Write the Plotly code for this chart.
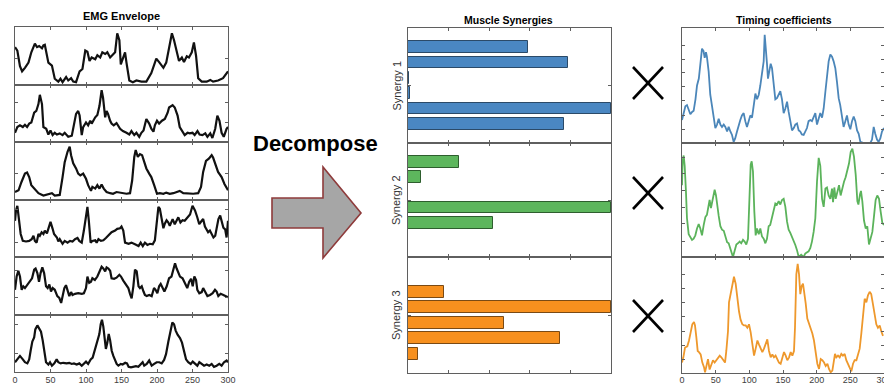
import plotly.graph_objects as go

W, H = 884, 385
FONT = "Liberation Sans, Arial, sans-serif"

# ---------------- EMG envelopes (six muscles, normalised amplitude) ----------------
emg1_t = [0, 3.3, 7, 10, 14, 19, 23, 28, 31, 34, 38, 40, 42, 47, 52, 56, 61, 64, 67, 72,
          75, 79, 82, 86, 91, 95, 99, 102, 105, 108, 113, 116, 120, 123, 127, 130, 134, 138, 141, 144,
          147, 149, 152, 155, 157, 161, 166, 171, 178, 185, 192, 199, 203, 209, 213, 217, 221, 224, 228, 231,
          235, 238, 242, 245, 249, 252, 255, 258, 263, 270, 275, 279, 286, 293, 300]
emg1_v = [0.65, 0.59, 0.32, 0.23, 0.29, 0.38, 0.56, 0.71, 0.65, 0.67, 0.63, 0.68, 0.69, 0.38, 0.33, 0.10, 0.05, 0.10, 0.04, 0.13,
          0.07, 0.11, 0.05, 0.04, 0.23, 0.27, 0.59, 0.57, 0.41, 0.47, 0.44, 0.51, 0.47, 0.56, 0.53, 0.56, 0.47, 0.53, 0.56, 0.89,
          0.77, 0.35, 0.47, 0.56, 0.38, 0.07, 0.04, 0.07, 0.05, 0.05, 0.20, 0.45, 0.39, 0.29, 0.38, 0.62, 0.89, 0.77, 0.53, 0.41,
          0.47, 0.39, 0.49, 0.47, 0.56, 0.73, 0.50, 0.11, 0.05, 0.05, 0.08, 0.05, 0.07, 0.11, 0.23]

emg2_t = [0, 3.3, 7, 11, 14, 17, 20, 23, 27, 30, 33, 35, 38, 40, 44, 47, 50, 53, 56, 59,
          63, 67, 70, 75, 80, 83, 86, 89, 91, 94, 96, 100, 103, 106, 108, 113, 116, 119, 122, 124,
          127, 129, 131, 134, 136, 139, 143, 148, 152, 157, 161, 164, 168, 171, 175, 178, 181, 185, 189, 192,
          195, 197, 200, 203, 207, 211, 215, 217, 222, 225, 229, 232, 236, 239, 243, 246, 250, 253, 257, 260,
          264, 268, 271, 275, 278, 282, 285, 288, 291, 294, 298, 300]
emg2_v = [0.16, 0.26, 0.29, 0.26, 0.30, 0.26, 0.32, 0.34, 0.51, 0.54, 0.66, 0.82, 0.66, 0.26, 0.23, 0.13, 0.20, 0.12, 0.16, 0.13,
          0.15, 0.12, 0.16, 0.09, 0.11, 0.32, 0.49, 0.54, 0.46, 0.12, 0.26, 0.34, 0.29, 0.37, 0.32, 0.43, 0.47, 0.63, 0.90, 0.77,
          0.43, 0.54, 0.49, 0.37, 0.32, 0.29, 0.33, 0.23, 0.19, 0.16, 0.13, 0.19, 0.12, 0.16, 0.09, 0.16, 0.20, 0.40, 0.32, 0.23,
          0.18, 0.29, 0.37, 0.32, 0.37, 0.40, 0.51, 0.60, 0.64, 0.60, 0.46, 0.26, 0.19, 0.12, 0.16, 0.15, 0.16, 0.12, 0.19, 0.13,
          0.12, 0.15, 0.09, 0.15, 0.07, 0.23, 0.46, 0.37, 0.16, 0.09, 0.23, 0.26]

emg3_t = [0, 5, 9, 14, 17, 20, 23, 28, 33, 40, 47, 52, 56, 63, 67, 70, 74, 77, 79, 82,
          86, 89, 92, 96, 100, 103, 107, 109, 113, 116, 119, 122, 125, 129, 134, 138, 143, 150, 157, 162,
          165, 168, 170, 173, 176, 179, 182, 185, 189, 192, 196, 200, 204, 209, 213, 218, 223, 227, 232, 237,
          244, 251, 258, 262, 265, 269, 273, 277, 279, 283, 286, 291, 295, 300]
emg3_v = [0.13, 0.16, 0.30, 0.45, 0.47, 0.39, 0.25, 0.17, 0.11, 0.07, 0.09, 0.11, 0.07, 0.08, 0.39, 0.65, 0.83, 0.92, 0.77, 0.63,
          0.54, 0.45, 0.42, 0.45, 0.36, 0.25, 0.15, 0.22, 0.19, 0.25, 0.19, 0.26, 0.19, 0.13, 0.11, 0.10, 0.13, 0.11, 0.10, 0.11,
          0.33, 0.74, 0.86, 0.74, 0.79, 0.77, 0.65, 0.54, 0.45, 0.39, 0.25, 0.10, 0.11, 0.10, 0.12, 0.10, 0.11, 0.13, 0.15, 0.11,
          0.10, 0.10, 0.11, 0.22, 0.48, 0.67, 0.71, 0.77, 0.73, 0.57, 0.48, 0.39, 0.27, 0.16]

emg4_t = [0, 1.4, 3.3, 5.6, 8, 11, 15.5, 20, 23.5, 26, 28, 30.5, 33, 35, 37.5, 40, 42, 45, 47, 50,
          53, 55, 59, 61, 63, 67, 70, 74, 77.5, 81, 84.5, 88, 90.5, 94, 97, 100, 102, 104, 106.5, 109,
          113, 115, 117.5, 121, 124.5, 128, 131.5, 136, 141, 144, 148, 150, 152.5, 155, 160, 164, 169, 174, 177, 180,
          183, 186.5, 190, 194, 197, 199.5, 202, 204, 206.5, 209, 211, 213.5, 216, 218, 222, 225, 227.5, 230, 233, 236,
          239, 243, 246.5, 250, 253.5, 256.5, 259.5, 263, 265, 267.5, 270, 272, 274.5, 277, 279.5, 282, 284, 286.5, 289, 291,
          293.5, 296, 298, 300]
emg4_v = [0.63, 0.81, 0.89, 0.69, 0.40, 0.28, 0.27, 0.28, 0.31, 0.37, 0.28, 0.25, 0.40, 0.37, 0.43, 0.40, 0.46, 0.41, 0.49, 0.61,
          0.49, 0.40, 0.34, 0.27, 0.31, 0.23, 0.28, 0.25, 0.28, 0.27, 0.31, 0.33, 0.28, 0.25, 0.46, 0.75, 0.87, 0.63, 0.25, 0.28,
          0.29, 0.25, 0.31, 0.28, 0.29, 0.33, 0.37, 0.43, 0.46, 0.49, 0.50, 0.53, 0.46, 0.25, 0.23, 0.25, 0.22, 0.19, 0.25, 0.19,
          0.25, 0.21, 0.23, 0.22, 0.29, 0.57, 0.87, 0.84, 0.66, 0.50, 0.58, 0.64, 0.60, 0.54, 0.66, 0.57, 0.63, 0.69, 0.60, 0.64,
          0.63, 0.68, 0.74, 0.89, 0.81, 0.70, 0.57, 0.63, 0.66, 0.53, 0.47, 0.43, 0.46, 0.40, 0.34, 0.37, 0.51, 0.66, 0.72, 0.63,
          0.51, 0.48, 0.34, 0.63]

emg5_t = [0, 2.3, 4.7, 7, 9.4, 11.7, 14, 17.4, 20, 22, 24, 27, 29, 31.5, 33.8, 36, 38.5, 41, 43.7, 46,
          48.4, 50.7, 53, 56, 59.6, 62.4, 65, 67.1, 69.5, 71.8, 74, 76.5, 79, 81, 84.5, 89, 94, 97, 100, 102,
          104.5, 107, 109, 112.5, 116, 118.8, 122, 124.4, 127, 129, 131.5, 134, 136, 139.6, 143, 147, 149.3, 152.5, 156, 159.6,
          162, 164.3, 166.7, 169, 171.4, 174, 176, 178.5, 181, 183, 185.5, 189, 192.5, 195.8, 198, 200.5, 203, 205.2, 208, 210.4,
          213.7, 217, 220.4, 223, 225.4, 227.7, 230, 232.4, 236, 239.4, 242.6, 245.4, 248, 250.3, 252.6, 255, 256.8, 259.6, 263, 265,
          267.7, 271, 274.7, 278.4, 281.7, 284, 286.4, 289.7, 293.5, 297, 300]
emg5_v = [0.43, 0.66, 0.76, 0.66, 0.43, 0.49, 0.46, 0.52, 0.56, 0.60, 0.63, 0.78, 0.80, 0.72, 0.57, 0.72, 0.82, 0.72, 0.49, 0.46,
          0.52, 0.40, 0.46, 0.43, 0.32, 0.29, 0.20, 0.32, 0.46, 0.51, 0.43, 0.32, 0.39, 0.34, 0.36, 0.37, 0.36, 0.37, 0.46, 0.66,
          0.55, 0.57, 0.63, 0.60, 0.66, 0.75, 0.83, 0.80, 0.75, 0.82, 0.80, 0.76, 0.63, 0.62, 0.64, 0.69, 0.66, 0.59, 0.52, 0.46,
          0.36, 0.28, 0.49, 0.78, 0.75, 0.49, 0.46, 0.49, 0.40, 0.34, 0.32, 0.34, 0.32, 0.46, 0.43, 0.37, 0.49, 0.53, 0.46, 0.40,
          0.49, 0.63, 0.66, 0.78, 0.89, 0.80, 0.72, 0.66, 0.63, 0.55, 0.46, 0.57, 0.62, 0.49, 0.66, 0.60, 0.43, 0.37, 0.39, 0.46,
          0.40, 0.32, 0.34, 0.37, 0.43, 0.40, 0.32, 0.36, 0.34, 0.32, 0.30]

emg6_t = [0, 3.3, 7, 11, 14, 17.4, 20, 22, 24.4, 27, 28.6, 31.5, 34, 36.6, 39, 41.3, 43.7, 47, 49.3, 52,
          55.4, 58.7, 61, 64.3, 68, 72.7, 76.5, 79.8, 83, 86.9, 90.6, 94, 97, 100, 103, 106.6, 109.4, 112.7, 116, 118.8,
          120.7, 122.5, 124.4, 126.7, 128, 130, 132, 134, 136.2, 138.5, 141, 143.2, 145.6, 149, 151.6, 155.3, 157.7, 160, 163.4, 167,
          170.4, 173.7, 177, 179.8, 182, 185.5, 189, 192.5, 196, 199.5, 203.3, 206.6, 210, 212.7, 216, 219.3, 221.6, 224, 226.3, 229,
          232.4, 235.2, 238, 240.9, 244, 247.5, 250.3, 253.5, 256.8, 259.6, 263, 266.3, 270, 273.6, 277, 280.3, 284, 287.7, 291, 294.4,
          298, 300]
emg6_v = [0.17, 0.22, 0.28, 0.22, 0.17, 0.15, 0.22, 0.37, 0.53, 0.60, 0.74, 0.81, 0.76, 0.70, 0.55, 0.37, 0.17, 0.13, 0.17, 0.11,
          0.15, 0.22, 0.17, 0.15, 0.16, 0.15, 0.16, 0.14, 0.15, 0.13, 0.15, 0.11, 0.14, 0.18, 0.14, 0.22, 0.25, 0.38, 0.51, 0.66,
          0.83, 0.91, 0.79, 0.55, 0.40, 0.51, 0.66, 0.55, 0.37, 0.28, 0.20, 0.14, 0.11, 0.14, 0.13, 0.16, 0.15, 0.09, 0.08, 0.09,
          0.10, 0.09, 0.13, 0.17, 0.11, 0.14, 0.20, 0.11, 0.14, 0.17, 0.17, 0.15, 0.21, 0.31, 0.53, 0.71, 0.86, 0.83, 0.72, 0.65,
          0.59, 0.51, 0.38, 0.22, 0.17, 0.14, 0.18, 0.14, 0.11, 0.17, 0.14, 0.11, 0.13, 0.11, 0.14, 0.09, 0.11, 0.14, 0.11, 0.17,
          0.20, 0.17]

# ---------------- Muscle synergy weights (muscles 1..6) ----------------
muscles = [1, 2, 3, 4, 5, 6]
syn1_w = [0.59, 0.79, 0.003, 0.012, 1.0, 0.77]
syn2_w = [0.25, 0.064, 0.0, 1.0, 0.42, 0.002]
syn3_w = [0.0, 0.176, 1.0, 0.474, 0.75, 0.048]

# ---------------- Timing coefficients ----------------
tc1_t = [0, 2.5, 5, 7.4, 10, 12.4, 15, 17.3, 20, 22.3, 25, 27.2, 29.7, 32, 33.7, 35.6, 37, 39.6, 42, 44.6,
         47, 49.5, 52, 54.5, 57, 59.4, 62, 64.4, 67, 69.3, 71.8, 74.3, 76.7, 79, 81.7, 84, 86.6, 89, 91.6, 94,
         96.5, 99, 101.5, 104, 106.4, 109, 111.4, 114, 116.3, 118.8, 121.3, 122.8, 124.8, 126.2, 127.7, 129.7, 131.7, 133.7, 136, 138.6,
         141, 143.6, 146, 148.5, 151, 153.5, 156, 158.4, 161, 163.4, 166, 168.3, 170.8, 173.3, 175.7, 178, 180.7, 183, 185.6, 188,
         190.6, 193, 195.5, 198, 200.5, 203, 205.4, 208, 210.4, 213, 215.3, 217.8, 220.3, 222.8, 225.2, 227.7, 230.2, 232.7, 235, 237.6,
         240, 242.6, 245, 247.5, 250, 252.5, 255, 257.4, 260, 262.4, 264.9, 270, 275, 279.7, 282.2, 284.7, 287, 289.6, 292, 294.5,
         297, 300]
tc1_v = [0.20, 0.25, 0.32, 0.33, 0.29, 0.25, 0.27, 0.28, 0.38, 0.50, 0.56, 0.68, 0.82, 0.80, 0.74, 0.79, 0.75, 0.62, 0.42, 0.32,
         0.20, 0.13, 0.16, 0.21, 0.16, 0.14, 0.16, 0.14, 0.10, 0.14, 0.10, 0.07, 0.01, 0.04, 0.10, 0.16, 0.20, 0.24, 0.26, 0.19,
         0.14, 0.19, 0.24, 0.22, 0.32, 0.43, 0.38, 0.42, 0.50, 0.59, 0.71, 0.94, 0.82, 0.69, 0.56, 0.62, 0.69, 0.65, 0.50, 0.38,
         0.39, 0.42, 0.45, 0.38, 0.26, 0.30, 0.36, 0.27, 0.17, 0.11, 0.13, 0.16, 0.17, 0.11, 0.10, 0.075, 0.07, 0.10, 0.13, 0.19,
         0.20, 0.19, 0.23, 0.26, 0.16, 0.22, 0.26, 0.22, 0.30, 0.45, 0.59, 0.71, 0.77, 0.75, 0.71, 0.65, 0.53, 0.39, 0.33, 0.24,
         0.14, 0.19, 0.24, 0.16, 0.12, 0.19, 0.23, 0.19, 0.11, 0.08, 0.01, 0.0, 0.0, 0.0, 0.03, 0.14, 0.08, 0.03, 0.01, 0.04,
         0.10, 0.13]

tc2_t = [0, 1, 2.5, 4, 5.9, 7.4, 9.9, 12.4, 14.9, 17.3, 19.8, 22.3, 24.8, 27.2, 29.7, 32.2, 34.7, 37, 39.6, 41,
         43, 45.5, 48.5, 50.5, 52, 54.5, 57, 59.4, 62, 64.4, 67, 69.3, 71.8, 74.3, 75.7, 78, 80.7, 83, 85.6, 88,
         90.6, 93, 95.5, 98, 100, 102, 103.5, 105.4, 107.4, 109.4, 111.4, 114, 116.3, 118.8, 121.3, 123.8, 126.2, 128.7, 131, 133.7,
         136, 138.6, 141, 143.6, 146, 148.5, 151, 153.5, 156, 158.4, 161, 163.4, 166, 168.3, 170.8, 173.3, 177, 180.7, 183, 185.6,
         188, 190.6, 193, 195.5, 198, 200.5, 203, 205.4, 208, 210.4, 213, 215.3, 217.8, 220.3, 222.8, 224.3, 226.2, 228.2, 230.7, 233.2,
         235.6, 238, 240.6, 243, 245.5, 248, 250.5, 253, 255.4, 258, 260.4, 262, 264.4, 265.8, 267.8, 270.3, 272.8, 275.2, 277.7, 280.2,
         282.7, 285, 287.6, 290, 292.6, 295, 297.5, 300]
tc2_v = [0.63, 0.85, 0.89, 0.80, 0.57, 0.34, 0.20, 0.18, 0.15, 0.16, 0.19, 0.25, 0.29, 0.25, 0.19, 0.28, 0.35, 0.37, 0.44, 0.50,
         0.43, 0.51, 0.59, 0.54, 0.46, 0.36, 0.27, 0.24, 0.23, 0.19, 0.13, 0.12, 0.08, 0.03, 0.00, 0.05, 0.11, 0.12, 0.135, 0.12,
         0.15, 0.135, 0.11, 0.16, 0.49, 0.81, 0.84, 0.75, 0.40, 0.19, 0.25, 0.20, 0.25, 0.18, 0.16, 0.12, 0.16, 0.27, 0.28, 0.34,
         0.41, 0.47, 0.46, 0.49, 0.46, 0.50, 0.51, 0.44, 0.31, 0.24, 0.21, 0.18, 0.135, 0.105, 0.06, 0.00, 0.02, 0.00, 0.03, 0.04,
         0.05, 0.08, 0.135, 0.22, 0.34, 0.66, 0.87, 0.80, 0.51, 0.44, 0.60, 0.61, 0.54, 0.51, 0.60, 0.48, 0.61, 0.51, 0.56, 0.63,
         0.54, 0.61, 0.66, 0.70, 0.75, 0.82, 0.92, 0.95, 0.88, 0.72, 0.49, 0.46, 0.55, 0.58, 0.49, 0.32, 0.25, 0.27, 0.11, 0.16,
         0.22, 0.35, 0.50, 0.54, 0.51, 0.40, 0.30, 0.28]

tc3_t = [0, 2, 4.5, 7.9, 10.4, 12.9, 15.3, 17.8, 19.3, 21.3, 23.3, 25.2, 27.7, 30.2, 32.7, 34.2, 36.1, 38.6, 41, 43.6,
         46, 48.5, 51, 53.5, 56, 58.4, 61, 63.9, 65.8, 68.3, 69.8, 72.3, 74.8, 77.2, 79.7, 82.2, 84.7, 87, 89.6, 92,
         94.6, 97, 99.5, 102, 104.5, 107, 109.4, 112, 114.4, 117, 119.3, 121.8, 124.3, 126.7, 129.2, 131.7, 134.2, 136.6, 139, 141.6,
         144, 146.5, 149, 151.5, 154, 156.4, 159, 161.4, 163.9, 166.3, 167.8, 169.8, 171.8, 173.8, 175.7, 177.7, 179.7, 181.7, 183.7, 186.1,
         188.6, 191, 193.6, 196, 198.5, 201, 203.5, 206, 208.4, 211, 213.4, 216, 218.3, 220.8, 223.3, 225.7, 227.2, 229.2, 231.7, 234.2,
         236.6, 239, 241.6, 244, 246.5, 249, 251.5, 254, 256.4, 259, 261.4, 263.9, 266.3, 268.8, 271.3, 273.8, 276.2, 278.7, 281, 283.7,
         286.1, 288.6, 291, 293.6, 296, 298.5]
tc3_v = [0.09, 0.135, 0.22, 0.23, 0.28, 0.36, 0.42, 0.44, 0.41, 0.31, 0.19, 0.18, 0.16, 0.09, 0.05, 0.006, 0.05, 0.12, 0.03, 0.08,
         0.11, 0.09, 0.11, 0.135, 0.15, 0.135, 0.11, 0.09, 0.19, 0.36, 0.61, 0.68, 0.78, 0.83, 0.77, 0.62, 0.53, 0.46, 0.42, 0.41,
         0.41, 0.39, 0.42, 0.35, 0.26, 0.15, 0.21, 0.28, 0.245, 0.21, 0.18, 0.21, 0.25, 0.29, 0.19, 0.135, 0.16, 0.135, 0.15, 0.12,
         0.09, 0.08, 0.135, 0.18, 0.15, 0.11, 0.135, 0.18, 0.15, 0.19, 0.39, 0.85, 0.94, 0.85, 0.68, 0.75, 0.77, 0.70, 0.60, 0.47,
         0.43, 0.39, 0.34, 0.28, 0.19, 0.08, 0.035, 0.12, 0.11, 0.09, 0.06, 0.08, 0.035, 0.006, 0.02, 0.09, 0.165, 0.135, 0.15, 0.135,
         0.165, 0.15, 0.165, 0.11, 0.08, 0.05, 0.014, 0.08, 0.11, 0.11, 0.15, 0.21, 0.34, 0.51, 0.64, 0.61, 0.67, 0.70, 0.68, 0.59,
         0.49, 0.42, 0.39, 0.41, 0.36, 0.32]

time_ticks = [0, 50, 100, 150, 200, 250, 300]

emg_series = [(emg1_t, emg1_v), (emg2_t, emg2_v), (emg3_t, emg3_v),
              (emg4_t, emg4_v), (emg5_t, emg5_v), (emg6_t, emg6_v)]
synergy_series = [syn1_w, syn2_w, syn3_w]
timing_series = [(tc1_t, tc1_v), (tc2_t, tc2_v), (tc3_t, tc3_v)]
for t, v in emg_series + timing_series:
    assert len(t) == len(v), (len(t), len(v))

BAR_FILL = ["#4A87C2", "#5DB65D", "#F7901E"]
BAR_EDGE = ["#2B4A68", "#2E5E2E", "#7A4A14"]
LINE_COL = ["#4B86B9", "#5BB35B", "#EE982C"]
AXIS_COL = "#5f5f5f"


def px_x(p):
    return p / W


def px_y(p):
    return 1 - p / H


fig = go.Figure()
layout_axes = {}
axis_n = 0


def base_axis(**kw):
    d = dict(showline=True, linecolor=AXIS_COL, linewidth=1, mirror="ticks",
             ticks="inside", ticklen=3, tickcolor=AXIS_COL, tickwidth=1,
             showgrid=False, zeroline=False, fixedrange=True, automargin=False,
             tickfont=dict(family=FONT, size=9, color="#404040"))
    d.update(kw)
    return d


def new_axes(xdom, ydom, xkw, ykw):
    global axis_n
    axis_n += 1
    sfx = "" if axis_n == 1 else str(axis_n)
    layout_axes["xaxis" + sfx] = base_axis(domain=xdom, anchor="y" + sfx, **xkw)
    layout_axes["yaxis" + sfx] = base_axis(domain=ydom, anchor="x" + sfx, **ykw)
    return "x" + sfx, "y" + sfx


# EMG envelope column: six stacked panels
emg_edges = [27, 84.5, 142, 199.5, 257, 314.5, 372]
emg_yticks = [[0.45], [0.34, 0.69], [0.45], [0.26, 0.82], [0.29, 0.77], [0.33, 0.82]]
for i, (t, v) in enumerate(emg_series):
    xa, ya = new_axes(
        [px_x(15), px_x(228)], [px_y(emg_edges[i + 1]), px_y(emg_edges[i])],
        dict(range=[0, 300], tickvals=time_ticks, showticklabels=(i == 5),
             ticklabelstandoff=-1),
        dict(range=[0, 1], tickvals=emg_yticks[i], showticklabels=False))
    fig.add_trace(go.Scatter(x=t, y=v, mode="lines", xaxis=xa, yaxis=ya,
                             line=dict(color="#111111", width=2.2),
                             hoverinfo="skip"))

# Muscle synergy weights: three stacked horizontal bar panels
syn_edges = [28, 143, 257, 373]
for i, w in enumerate(synergy_series):
    xa, ya = new_axes(
        [px_x(408), px_x(611)], [px_y(syn_edges[i + 1]), px_y(syn_edges[i])],
        dict(range=[0, 1], tickvals=[0.2, 0.4, 0.6, 0.8], showticklabels=False),
        dict(range=[7.25, -0.25], tickvals=[3.5], showticklabels=False))
    fig.add_trace(go.Bar(x=w, y=muscles, orientation="h", width=0.76,
                         xaxis=xa, yaxis=ya,
                         marker=dict(color=BAR_FILL[i],
                                     line=dict(color=BAR_EDGE[i], width=1)),
                         hoverinfo="skip"))

# Timing coefficients column (the last tick label runs off the right edge)
tc_yticks = [[0.12, 0.24, 0.37, 0.49, 0.61, 0.73, 0.85],
             [0.14, 0.29, 0.43, 0.58, 0.73, 0.87],
             [0.12, 0.24, 0.36, 0.49, 0.61, 0.73, 0.85]]
for i, (t, v) in enumerate(timing_series):
    xa, ya = new_axes(
        [px_x(682), 1.0], [px_y(syn_edges[i + 1]), px_y(syn_edges[i])],
        dict(range=[0, 300], tickvals=time_ticks, showticklabels=(i == 2),
             ticklabelstandoff=-2, ticklabeloverflow="allow"),
        dict(range=[0, 1], tickvals=tc_yticks[i], showticklabels=False))
    fig.add_trace(go.Scatter(x=t, y=v, mode="lines", xaxis=xa, yaxis=ya,
                             line=dict(color=LINE_COL[i], width=1.8),
                             hoverinfo="skip"))

annotations = [
    dict(text="<b>EMG Envelope</b>", x=px_x(121), y=px_y(16), size=11),
    dict(text="<b>Muscle Synergies</b>", x=px_x(509), y=px_y(20), size=10.5),
    dict(text="<b>Timing coefficients</b>", x=px_x(784), y=px_y(20), size=10.5),
    dict(text="<b>Decompose</b>", x=px_x(315), y=px_y(143), size=22),
]
ann_objs = []
for a in annotations:
    ann_objs.append(dict(text=a["text"], x=a["x"], y=a["y"], xref="paper", yref="paper",
                         xanchor="center", yanchor="middle", showarrow=False,
                         font=dict(family=FONT, size=a["size"], color="#000000")))
for k, mid in enumerate([85.5, 200, 315]):
    ann_objs.append(dict(text="Synergy %d" % (k + 1), x=px_x(396), y=px_y(mid),
                         xref="paper", yref="paper", xanchor="center", yanchor="middle",
                         textangle=-90, showarrow=False,
                         font=dict(family=FONT, size=11, color="#333333")))

# Block arrow between the EMG column and the synergy bars
arrow_pts = [(272, 198), (323, 198), (323, 167), (361, 213), (323, 258), (323, 228), (272, 228)]
path = "M " + " L ".join("%.5f,%.5f" % (px_x(x), px_y(y)) for x, y in arrow_pts) + " Z"
shapes = [dict(type="path", path=path, xref="paper", yref="paper",
               fillcolor="#A6A6A6", line=dict(color="#8E3B3B", width=1.6))]

# Multiplication signs between weights and timing coefficients
for cy in [83, 193, 316]:
    for (x0, y0, x1, y1) in [(633, cy - 16, 663, cy + 16), (633, cy + 16, 663, cy - 16)]:
        shapes.append(dict(type="line", xref="paper", yref="paper",
                           x0=px_x(x0), y0=px_y(y0), x1=px_x(x1), y1=px_y(y1),
                           line=dict(color="#000000", width=2.6)))

fig.update_layout(
    width=W, height=H, margin=dict(l=0, r=0, t=0, b=0),
    paper_bgcolor="white", plot_bgcolor="white",
    showlegend=False, bargap=0,
    annotations=ann_objs, shapes=shapes,
    font=dict(family=FONT),
    **layout_axes)

fig.write_html("out.html", config={"displayModeBar": False})
